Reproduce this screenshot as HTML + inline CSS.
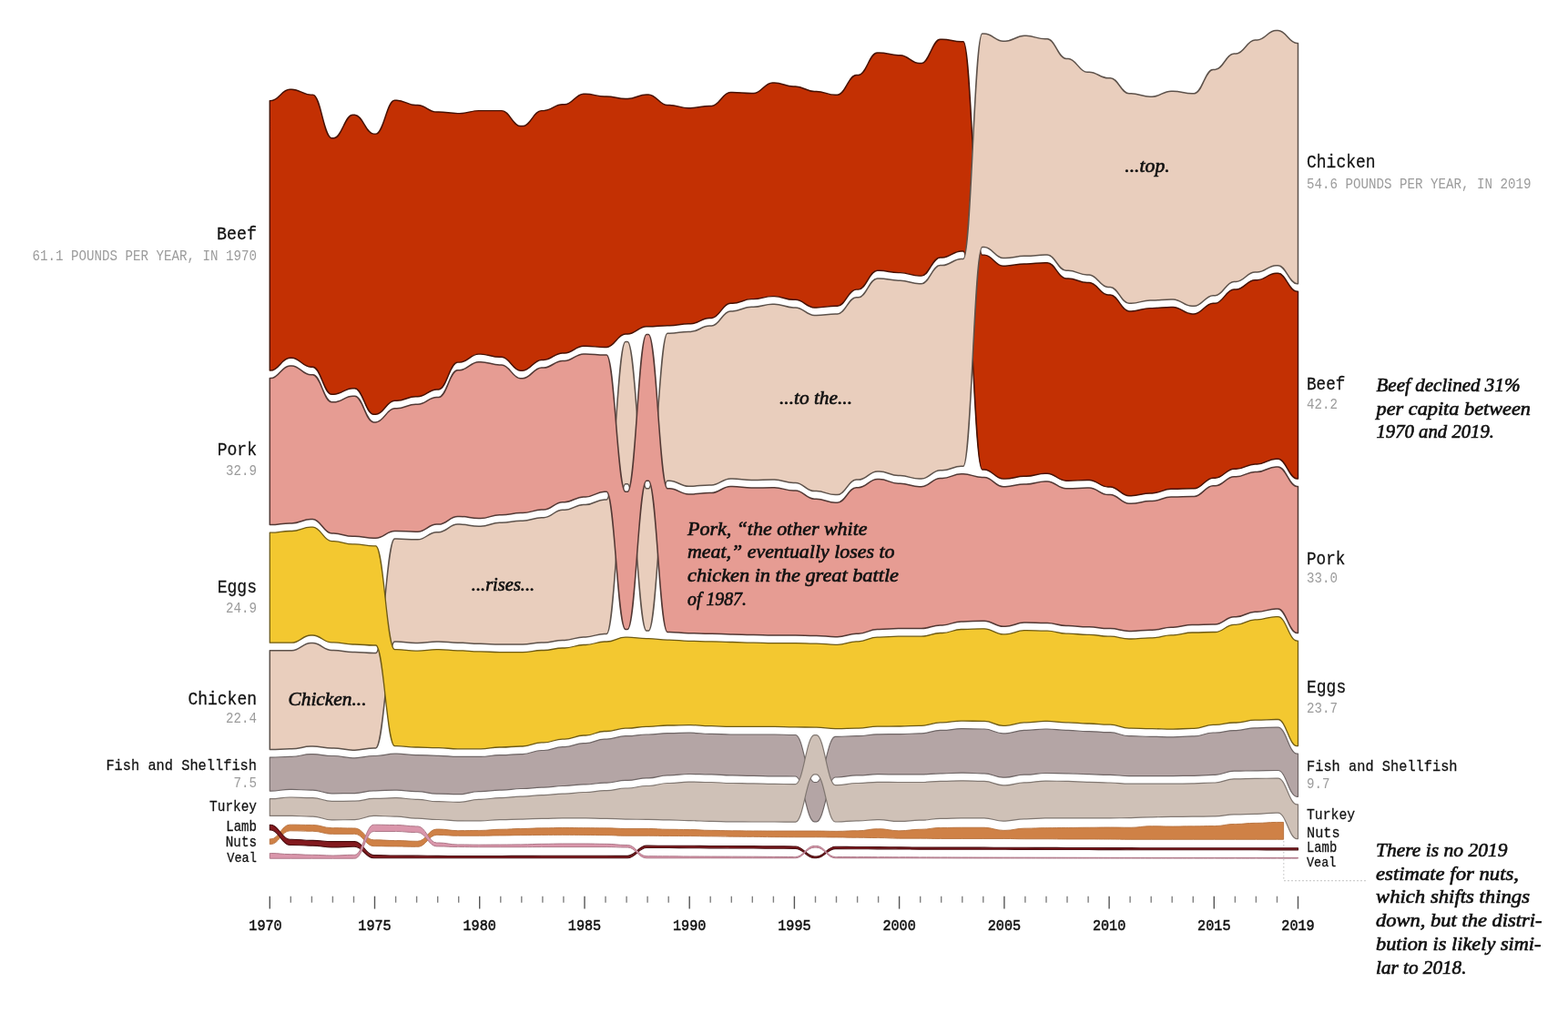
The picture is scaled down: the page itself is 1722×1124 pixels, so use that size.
<!DOCTYPE html>
<html lang="en">
<head>
<meta charset="utf-8">
<title>How American meat consumption changed</title>
<style>
html,body{margin:0;padding:0;background:#fff;}
body{width:1722px;height:1124px;overflow:hidden;}
svg{display:block;}
.band{stroke-linejoin:round;}/*1.25*/
text{font-family:"Liberation Mono","DejaVu Sans Mono",monospace;}
.lb{fill:#111;stroke:#111;stroke-width:.25px;}
.vl{fill:#9c9c9c;}
.ax{fill:#111;stroke:#111;stroke-width:.55px;}
.an{font-family:"Liberation Serif","DejaVu Serif",serif;font-style:italic;font-size:21.2px;fill:#111;stroke:#111;stroke-width:.65px;}
</style>
</head>
<body>
<svg width="1722" height="1124" viewBox="0 0 1722 1124">
<rect width="1722" height="1124" fill="#fff"/>
<path d="M1409.8,924V967.6H1500" fill="none" stroke="#c4c4c4" stroke-width="1.1" stroke-dasharray="1.6,2.4"/>
<g id="bands">
<path class="band beef" d="M296.3,110.62H297.45C306.16,110.62,309.48,98.32,318.19,98.32H319.34H320.5C329.21,98.32,332.53,104.12,341.24,104.12H342.39H343.54C352.25,104.12,355.57,151.82,364.28,151.82H365.43H366.59C375.3,151.82,378.62,126.22,387.33,126.22H388.48H389.63C398.34,126.22,401.66,147.12,410.37,147.12H411.52H412.68C421.39,147.12,424.71,110.22,433.42,110.22H434.57H435.72C444.43,110.22,447.75,115.52,456.46,115.52H457.61H458.77C467.48,115.52,470.8,123.02,479.51,123.02H480.66H481.81C490.52,123.02,493.84,124.62,502.55,124.62H503.7H504.86C513.57,124.62,516.89,121.62,525.6,121.62H526.75H549.79H550.95C559.66,121.62,562.98,138.53,571.69,138.53H572.84H573.99C582.7,138.53,586.02,121.62,594.73,121.62H595.88H597.04C605.75,121.62,609.07,114.82,617.78,114.82H618.93H620.08C628.79,114.82,632.11,103.22,640.82,103.22H641.97H643.13C651.84,103.22,655.16,106.02,663.87,106.02H665.02H666.17C674.88,106.02,678.2,108.52,686.91,108.52H688.06H689.22C697.93,108.52,701.24,103.92,709.96,103.92H711.11H712.26C720.97,103.92,724.29,115.52,733,115.52H734.15H735.31C744.02,115.52,747.33,118.72,756.05,118.72H757.2H758.35C767.06,118.72,770.38,116.42,779.09,116.42H780.24H781.4C790.11,116.42,793.42,101.52,802.14,101.52H803.29H804.44C813.15,101.52,816.47,102.52,825.18,102.52H826.33H827.48C836.2,102.52,839.51,90.92,848.23,90.92H849.38H850.53C859.24,90.92,862.56,95.02,871.27,95.02H872.42H873.57C882.29,95.02,885.6,100.42,894.32,100.42H895.47H896.62C905.33,100.42,908.65,104.32,917.36,104.32H918.51H919.66C928.38,104.32,931.69,82.52,940.4,82.52H941.56H942.71C951.42,82.52,954.74,57.93,963.45,57.93H964.6H965.75C974.47,57.93,977.78,60.73,986.49,60.73H987.65H988.8C997.51,60.73,1000.83,69.52,1009.54,69.52H1010.69H1011.84C1020.56,69.52,1023.87,43.23,1032.58,43.23H1033.74H1034.89C1043.6,43.23,1046.92,45.83,1055.63,45.83H1056.78H1057.93C1066.64,45.83,1069.96,280.1,1078.67,280.1H1079.83H1080.98C1089.69,280.1,1093.01,292.2,1101.72,292.2H1102.87H1104.02C1112.73,292.2,1116.05,289.9,1124.76,289.9H1125.92H1127.07C1135.78,289.9,1139.1,288.7,1147.81,288.7H1148.96H1150.11C1158.82,288.7,1162.14,305.9,1170.85,305.9H1172.01H1173.16C1181.87,305.9,1185.19,310.5,1193.9,310.5H1195.05H1196.2C1204.91,310.5,1208.23,324,1216.94,324H1218.1H1219.25C1227.96,324,1231.28,341.9,1239.99,341.9H1241.14H1242.29C1251,341.9,1254.32,338.6,1263.03,338.6H1264.19H1265.34C1274.05,338.6,1277.37,337.5,1286.08,337.5H1287.23H1288.38C1297.09,337.5,1300.41,344.9,1309.12,344.9H1310.28H1311.43C1320.14,344.9,1323.46,333.3,1332.17,333.3H1333.32H1334.47C1343.18,333.3,1346.5,318,1355.21,318H1356.37H1357.52C1366.23,318,1369.55,307.7,1378.26,307.7H1379.41H1380.56C1389.27,307.7,1392.59,300.3,1401.3,300.3H1402.46H1403.61C1412.32,300.3,1415.64,320.3,1424.35,320.3H1425.5L1425.5,525.9H1424.35C1415.64,525.9,1412.32,504.3,1403.61,504.3H1402.46H1401.3C1392.59,504.3,1389.27,509.9,1380.56,509.9H1379.41H1378.26C1369.55,509.9,1366.23,515.2,1357.52,515.2H1356.37H1355.21C1346.5,515.2,1343.18,525.2,1334.47,525.2H1333.32H1332.17C1323.46,525.2,1320.14,536.8,1311.43,536.8H1310.28H1309.12C1300.41,536.8,1297.09,537.3,1288.38,537.3H1287.23H1286.08C1277.37,537.3,1274.05,541.9,1265.34,541.9H1264.19H1263.03C1254.32,541.9,1251,544.7,1242.29,544.7H1241.14H1239.99C1231.28,544.7,1227.96,535,1219.25,535H1218.1H1216.94C1208.23,535,1204.91,527.5,1196.2,527.5H1195.05H1193.9C1185.19,527.5,1181.87,528.2,1173.16,528.2H1172.01H1170.85C1162.14,528.2,1158.82,520.3,1150.11,520.3H1148.96H1147.81C1139.1,520.3,1135.78,523.3,1127.07,523.3H1125.92H1124.76C1116.05,523.3,1112.73,526.1,1104.02,526.1H1102.87H1101.72C1093.01,526.1,1089.69,515.9,1080.98,515.9H1079.83H1078.67C1069.96,515.9,1066.64,275.9,1057.93,275.9H1056.78H1055.63C1046.92,275.9,1043.6,282.9,1034.89,282.9H1033.74H1032.58C1023.87,282.9,1020.56,303.1,1011.84,303.1H1010.69H1009.54C1000.83,303.1,997.51,299.6,988.8,299.6H987.65H986.49C977.78,299.6,974.47,297.3,965.75,297.3H964.6H963.45C954.74,297.3,951.42,318.1,942.71,318.1H941.56H940.4C931.69,318.1,928.38,336.3,919.66,336.3H918.51H917.36C908.65,336.3,905.33,337.9,896.62,337.9H895.47H894.32C885.6,337.9,882.29,329.3,873.57,329.3H872.42H871.27C862.56,329.3,859.24,325.6,850.53,325.6H849.38H848.23C839.51,325.6,836.2,328.6,827.48,328.6H826.33H825.18C816.47,328.6,813.15,333.3,804.44,333.3H803.29H802.14C793.42,333.3,790.11,349.5,781.4,349.5H780.24H779.09C770.38,349.5,767.06,355.8,758.35,355.8H757.2H756.05C747.33,355.8,744.02,357.7,735.31,357.7H734.15H733C724.29,357.7,720.97,358.8,712.26,358.8H711.11H709.96C701.24,358.8,697.93,367,689.22,367H688.06H686.91C678.2,367,674.88,381.4,666.17,381.4H665.02H663.87C655.16,381.4,651.84,380.3,643.13,380.3H641.97H640.82C632.11,380.3,628.79,387.9,620.08,387.9H618.93H617.78C609.07,387.9,605.75,395.4,597.04,395.4H595.88H594.73C586.02,395.4,582.7,407.2,573.99,407.2H572.84H571.69C562.98,407.2,559.66,392.3,550.95,392.3H549.79H548.64C539.93,392.3,536.61,389.1,527.9,389.1H526.75H525.6C516.89,389.1,513.57,398.1,504.86,398.1H503.7H502.55C493.84,398.1,490.52,427.9,481.81,427.9H480.66H479.51C470.8,427.9,467.48,435.7,458.77,435.7H457.61H456.46C447.75,435.7,444.43,440.2,435.72,440.2H434.57H433.42C424.71,440.2,421.39,455.3,412.68,455.3H411.52H410.37C401.66,455.3,398.34,426.7,389.63,426.7H388.48H387.33C378.62,426.7,375.3,433.2,366.59,433.2H365.43H364.28C355.57,433.2,352.25,403.2,343.54,403.2H342.39H341.24C332.53,403.2,329.21,393.3,320.5,393.3H319.34H318.19C309.48,393.3,306.16,407,297.45,407H296.3Z" fill="#c33003" stroke="#461101" stroke-width="1.45"/>
<path class="band chicken" d="M296.3,714.8H319.34H320.5C329.21,714.8,332.53,706.6,341.24,706.6H342.39H343.54C352.25,706.6,355.57,714.5,364.28,714.5H365.43H366.59C375.3,714.5,378.62,716.6,387.33,716.6H388.48H389.63C398.34,716.6,401.66,717.6,410.37,717.6H411.52H412.68C421.39,717.6,424.71,592.1,433.42,592.1H434.57H435.72C444.43,592.1,447.75,592.8,456.46,592.8H457.61H458.77C467.48,592.8,470.8,584.7,479.51,584.7H480.66H481.81C490.52,584.7,493.84,576.1,502.55,576.1H503.7H504.86C513.57,576.1,516.89,578.2,525.6,578.2H526.75H527.9C536.61,578.2,539.93,574.3,548.64,574.3H549.79H550.95C559.66,574.3,562.98,572.2,571.69,572.2H572.84H573.99C582.7,572.2,586.02,568.7,594.73,568.7H595.88H597.04C605.75,568.7,609.07,560.3,617.78,560.3H618.93H620.08C628.79,560.3,632.11,554.5,640.82,554.5H641.97H643.13C651.84,554.5,655.16,548.9,663.87,548.9H665.02H666.17C674.88,548.9,678.2,375.6,686.91,375.6H688.06H689.22C697.93,375.6,701.24,536.8,709.96,536.8H711.11H712.26C720.97,536.8,724.29,366.3,733,366.3H734.15H735.31C744.02,366.3,747.33,364.4,756.05,364.4H757.2H758.35C767.06,364.4,770.38,358.1,779.09,358.1H780.24H781.4C790.11,358.1,793.42,341.9,802.14,341.9H803.29H804.44C813.15,341.9,816.47,337.2,825.18,337.2H826.33H827.48C836.2,337.2,839.51,334.2,848.23,334.2H849.38H850.53C859.24,334.2,862.56,337.9,871.27,337.9H872.42H873.57C882.29,337.9,885.6,346.5,894.32,346.5H895.47H896.62C905.33,346.5,908.65,344.9,917.36,344.9H918.51H919.66C928.38,344.9,931.69,326.7,940.4,326.7H941.56H942.71C951.42,326.7,954.74,305.9,963.45,305.9H964.6H965.75C974.47,305.9,977.78,308.2,986.49,308.2H987.65H988.8C997.51,308.2,1000.83,311.7,1009.54,311.7H1010.69H1011.84C1020.56,311.7,1023.87,291.5,1032.58,291.5H1033.74H1034.89C1043.6,291.5,1046.92,284.5,1055.63,284.5H1056.78H1057.93C1066.64,284.5,1069.96,37.05,1078.67,37.05H1079.83H1080.98C1089.69,37.05,1093.01,45.15,1101.72,45.15H1102.87H1104.02C1112.73,45.15,1116.05,39.35,1124.76,39.35H1125.92H1127.07C1135.78,39.35,1139.1,42.85,1147.81,42.85H1148.96H1150.11C1158.82,42.85,1162.14,64.45,1170.85,64.45H1172.01H1173.16C1181.87,64.45,1185.19,79.25,1193.9,79.25H1195.05H1196.2C1204.91,79.25,1208.23,85.75,1216.94,85.75H1218.1H1219.25C1227.96,85.75,1231.28,102.75,1239.99,102.75H1241.14H1242.29C1251,102.75,1254.32,106.25,1263.03,106.25H1264.19H1265.34C1274.05,106.25,1277.37,100.15,1286.08,100.15H1287.23H1288.38C1297.09,100.15,1300.41,102.75,1309.12,102.75H1310.28H1311.43C1320.14,102.75,1323.46,76.45,1332.17,76.45H1333.32H1334.47C1343.18,76.45,1346.5,59.05,1355.21,59.05H1356.37H1357.52C1366.23,59.05,1369.55,43.95,1378.26,43.95H1379.41H1380.56C1389.27,43.95,1392.59,33.55,1401.3,33.55H1402.46H1403.61C1412.32,33.55,1415.64,47.45,1424.35,47.45H1425.5L1425.5,311.7H1424.35C1415.64,311.7,1412.32,291.7,1403.61,291.7H1402.46H1401.3C1392.59,291.7,1389.27,299.1,1380.56,299.1H1379.41H1378.26C1369.55,299.1,1366.23,309.4,1357.52,309.4H1356.37H1355.21C1346.5,309.4,1343.18,324.7,1334.47,324.7H1333.32H1332.17C1323.46,324.7,1320.14,336.3,1311.43,336.3H1310.28H1309.12C1300.41,336.3,1297.09,328.9,1288.38,328.9H1287.23H1286.08C1277.37,328.9,1274.05,330,1265.34,330H1264.19H1263.03C1254.32,330,1251,333.3,1242.29,333.3H1241.14H1239.99C1231.28,333.3,1227.96,315.4,1219.25,315.4H1218.1H1216.94C1208.23,315.4,1204.91,301.9,1196.2,301.9H1195.05H1193.9C1185.19,301.9,1181.87,297.3,1173.16,297.3H1172.01H1170.85C1162.14,297.3,1158.82,280.1,1150.11,280.1H1148.96H1147.81C1139.1,280.1,1135.78,281.3,1127.07,281.3H1125.92H1124.76C1116.05,281.3,1112.73,283.6,1104.02,283.6H1102.87H1101.72C1093.01,283.6,1089.69,271.5,1080.98,271.5H1079.83H1078.67C1069.96,271.5,1066.64,512.2,1057.93,512.2H1056.78H1055.63C1046.92,512.2,1043.6,516.8,1034.89,516.8H1033.74H1032.58C1023.87,516.8,1020.56,526.1,1011.84,526.1H1010.69H1009.54C1000.83,526.1,997.51,522.6,988.8,522.6H987.65H986.49C977.78,522.6,974.47,518,965.75,518H964.6H963.45C954.74,518,951.42,527.1,942.71,527.1H941.56H940.4C931.69,527.1,928.38,543.6,919.66,543.6H918.51H917.36C908.65,543.6,905.33,539.6,896.62,539.6H895.47H894.32C885.6,539.6,882.29,530.5,873.57,530.5H872.42H871.27C862.56,530.5,859.24,527.1,850.53,527.1H849.38H848.23C839.51,527.1,836.2,527.5,827.48,527.5H826.33H825.18C816.47,527.5,813.15,525.9,804.44,525.9H803.29H802.14C793.42,525.9,790.11,532.9,781.4,532.9H780.24H779.09C770.38,532.9,767.06,534.3,758.35,534.3H757.2H756.05C747.33,534.3,744.02,528.2,735.31,528.2H734.15H733C724.29,528.2,720.97,693.1,712.26,693.1H711.11H709.96C701.24,693.1,697.93,531.7,689.22,531.7H688.06H686.91C678.2,531.7,674.88,696.4,666.17,696.4H665.02H663.87C655.16,696.4,651.84,699.9,643.13,699.9H641.97H640.82C632.11,699.9,628.79,703.4,620.08,703.4H618.93H617.78C609.07,703.4,605.75,705.9,597.04,705.9H595.88H594.73C586.02,705.9,582.7,708,573.99,708H572.84H549.79H548.64C539.93,708,536.61,707.3,527.9,707.3H526.75H525.6C516.89,707.3,513.57,706.2,504.86,706.2H503.7H502.55C493.84,706.2,490.52,705,481.81,705H480.66H479.51C470.8,705,467.48,706.6,458.77,706.6H457.61H456.46C447.75,706.6,444.43,705,435.72,705H434.57H433.42C424.71,705,421.39,821.9,412.68,821.9H411.52H410.37C401.66,821.9,398.34,824.2,389.63,824.2H388.48H387.33C378.62,824.2,375.3,821.9,366.59,821.9H365.43H364.28C355.57,821.9,352.25,820,343.54,820H342.39H341.24C332.53,820,329.21,822.8,320.5,822.8H319.34H318.19C309.48,822.8,306.16,823.5,297.45,823.5H296.3Z" fill="#e9cebd" stroke="#5d524b" stroke-width="1.5"/>
<path class="band pork" d="M296.3,415.6H297.45C306.16,415.6,309.48,401.9,318.19,401.9H319.34H320.5C329.21,401.9,332.53,411.8,341.24,411.8H342.39H343.54C352.25,411.8,355.57,441.8,364.28,441.8H365.43H366.59C375.3,441.8,378.62,435.3,387.33,435.3H388.48H389.63C398.34,435.3,401.66,463.9,410.37,463.9H411.52H412.68C421.39,463.9,424.71,448.8,433.42,448.8H434.57H435.72C444.43,448.8,447.75,444.3,456.46,444.3H457.61H458.77C467.48,444.3,470.8,436.5,479.51,436.5H480.66H481.81C490.52,436.5,493.84,406.7,502.55,406.7H503.7H504.86C513.57,406.7,516.89,397.7,525.6,397.7H526.75H527.9C536.61,397.7,539.93,400.9,548.64,400.9H549.79H550.95C559.66,400.9,562.98,415.8,571.69,415.8H572.84H573.99C582.7,415.8,586.02,404,594.73,404H595.88H597.04C605.75,404,609.07,396.5,617.78,396.5H618.93H620.08C628.79,396.5,632.11,388.9,640.82,388.9H641.97H643.13C651.84,388.9,655.16,390,663.87,390H665.02H666.17C674.88,390,678.2,540.3,686.91,540.3H688.06H689.22C697.93,540.3,701.24,367.4,709.96,367.4H711.11H712.26C720.97,367.4,724.29,536.8,733,536.8H734.15H735.31C744.02,536.8,747.33,542.9,756.05,542.9H757.2H758.35C767.06,542.9,770.38,541.5,779.09,541.5H780.24H781.4C790.11,541.5,793.42,534.5,802.14,534.5H803.29H804.44C813.15,534.5,816.47,536.1,825.18,536.1H826.33H827.48C836.2,536.1,839.51,535.7,848.23,535.7H849.38H850.53C859.24,535.7,862.56,539.1,871.27,539.1H872.42H873.57C882.29,539.1,885.6,548.2,894.32,548.2H895.47H896.62C905.33,548.2,908.65,552.2,917.36,552.2H918.51H919.66C928.38,552.2,931.69,535.7,940.4,535.7H941.56H942.71C951.42,535.7,954.74,526.6,963.45,526.6H964.6H965.75C974.47,526.6,977.78,531.2,986.49,531.2H987.65H988.8C997.51,531.2,1000.83,534.7,1009.54,534.7H1010.69H1011.84C1020.56,534.7,1023.87,525.4,1032.58,525.4H1033.74H1034.89C1043.6,525.4,1046.92,520.8,1055.63,520.8H1056.78H1057.93C1066.64,520.8,1069.96,524.5,1078.67,524.5H1079.83H1080.98C1089.69,524.5,1093.01,534.7,1101.72,534.7H1102.87H1104.02C1112.73,534.7,1116.05,531.9,1124.76,531.9H1125.92H1127.07C1135.78,531.9,1139.1,528.9,1147.81,528.9H1148.96H1150.11C1158.82,528.9,1162.14,536.8,1170.85,536.8H1172.01H1173.16C1181.87,536.8,1185.19,536.1,1193.9,536.1H1195.05H1196.2C1204.91,536.1,1208.23,543.6,1216.94,543.6H1218.1H1219.25C1227.96,543.6,1231.28,553.3,1239.99,553.3H1241.14H1242.29C1251,553.3,1254.32,550.5,1263.03,550.5H1264.19H1265.34C1274.05,550.5,1277.37,545.9,1286.08,545.9H1287.23H1288.38C1297.09,545.9,1300.41,545.4,1309.12,545.4H1310.28H1311.43C1320.14,545.4,1323.46,533.8,1332.17,533.8H1333.32H1334.47C1343.18,533.8,1346.5,523.8,1355.21,523.8H1356.37H1357.52C1366.23,523.8,1369.55,518.5,1378.26,518.5H1379.41H1380.56C1389.27,518.5,1392.59,512.9,1401.3,512.9H1402.46H1403.61C1412.32,512.9,1415.64,534.5,1424.35,534.5H1425.5L1425.5,695.5H1424.35C1415.64,695.5,1412.32,669,1403.61,669H1402.46H1401.3C1392.59,669,1389.27,672.2,1380.56,672.2H1379.41H1378.26C1369.55,672.2,1366.23,677.8,1357.52,677.8H1356.37H1355.21C1346.5,677.8,1343.18,685.9,1334.47,685.9H1333.32H1332.17C1323.46,685.9,1320.14,686.4,1311.43,686.4H1310.28H1309.12C1300.41,686.4,1297.09,689.2,1288.38,689.2H1287.23H1286.08C1277.37,689.2,1274.05,692.2,1265.34,692.2H1264.19H1263.03C1254.32,692.2,1251,693.4,1242.29,693.4H1241.14H1239.99C1231.28,693.4,1227.96,690.6,1219.25,690.6H1218.1H1216.94C1208.23,690.6,1204.91,688.7,1196.2,688.7H1195.05H1193.9C1185.19,688.7,1181.87,687.6,1173.16,687.6H1172.01H1170.85C1162.14,687.6,1158.82,684.6,1150.11,684.6H1148.96H1147.81C1139.1,684.6,1135.78,684.1,1127.07,684.1H1125.92H1124.76C1116.05,684.1,1112.73,688.3,1104.02,688.3H1102.87H1101.72C1093.01,688.3,1089.69,682.2,1080.98,682.2H1079.83H1078.67C1069.96,682.2,1066.64,682.9,1057.93,682.9H1056.78H1055.63C1046.92,682.9,1043.6,686.9,1034.89,686.9H1033.74H1032.58C1023.87,686.9,1020.56,690.6,1011.84,690.6H1010.69H987.65H986.49C977.78,690.6,974.47,691.5,965.75,691.5H964.6H963.45C954.74,691.5,951.42,696.2,942.71,696.2H941.56H940.4C931.69,696.2,928.38,699.7,919.66,699.7H918.51H917.36C908.65,699.7,905.33,698.5,896.62,698.5H895.47H894.32C885.6,698.5,882.29,698,873.57,698H872.42H849.38H848.23C839.51,698,836.2,697.6,827.48,697.6H826.33H825.18C816.47,697.6,813.15,696.9,804.44,696.9H803.29H802.14C793.42,696.9,790.11,696.2,781.4,696.2H780.24H779.09C770.38,696.2,767.06,695.7,758.35,695.7H757.2H756.05C747.33,695.7,744.02,694.5,735.31,694.5H734.15H733C724.29,694.5,720.97,528.2,712.26,528.2H711.11H709.96C701.24,528.2,697.93,691.5,689.22,691.5H688.06H686.91C678.2,691.5,674.88,540.3,666.17,540.3H665.02H663.87C655.16,540.3,651.84,545.9,643.13,545.9H641.97H640.82C632.11,545.9,628.79,551.7,620.08,551.7H618.93H617.78C609.07,551.7,605.75,560.1,597.04,560.1H595.88H594.73C586.02,560.1,582.7,563.6,573.99,563.6H572.84H571.69C562.98,563.6,559.66,565.7,550.95,565.7H549.79H548.64C539.93,565.7,536.61,569.6,527.9,569.6H526.75H525.6C516.89,569.6,513.57,567.5,504.86,567.5H503.7H502.55C493.84,567.5,490.52,576.1,481.81,576.1H480.66H479.51C470.8,576.1,467.48,584.2,458.77,584.2H457.61H456.46C447.75,584.2,444.43,583.5,435.72,583.5H434.57H433.42C424.71,583.5,421.39,591.2,412.68,591.2H411.52H410.37C401.66,591.2,398.34,589.3,389.63,589.3H388.48H387.33C378.62,589.3,375.3,586.1,366.59,586.1H365.43H364.28C355.57,586.1,352.25,570.5,343.54,570.5H342.39H341.24C332.53,570.5,329.21,574.9,320.5,574.9H319.34H318.19C309.48,574.9,306.16,576.6,297.45,576.6H296.3Z" fill="#e69c93" stroke="#523834" stroke-width="1.5"/>
<path class="band eggs" d="M296.3,585.2H297.45C306.16,585.2,309.48,583.5,318.19,583.5H319.34H320.5C329.21,583.5,332.53,579.1,341.24,579.1H342.39H343.54C352.25,579.1,355.57,594.7,364.28,594.7H365.43H366.59C375.3,594.7,378.62,597.9,387.33,597.9H388.48H389.63C398.34,597.9,401.66,599.8,410.37,599.8H411.52H412.68C421.39,599.8,424.71,713.6,433.42,713.6H434.57H435.72C444.43,713.6,447.75,715.2,456.46,715.2H457.61H458.77C467.48,715.2,470.8,713.6,479.51,713.6H480.66H481.81C490.52,713.6,493.84,714.8,502.55,714.8H503.7H504.86C513.57,714.8,516.89,715.9,525.6,715.9H526.75H527.9C536.61,715.9,539.93,716.6,548.64,716.6H549.79H572.84H573.99C582.7,716.6,586.02,714.5,594.73,714.5H595.88H597.04C605.75,714.5,609.07,712,617.78,712H618.93H620.08C628.79,712,632.11,708.5,640.82,708.5H641.97H643.13C651.84,708.5,655.16,705,663.87,705H665.02H666.17C674.88,705,678.2,700.1,686.91,700.1H688.06H689.22C697.93,700.1,701.24,701.7,709.96,701.7H711.11H712.26C720.97,701.7,724.29,703.1,733,703.1H734.15H735.31C744.02,703.1,747.33,704.3,756.05,704.3H757.2H758.35C767.06,704.3,770.38,704.8,779.09,704.8H780.24H781.4C790.11,704.8,793.42,705.5,802.14,705.5H803.29H804.44C813.15,705.5,816.47,706.2,825.18,706.2H826.33H827.48C836.2,706.2,839.51,706.6,848.23,706.6H849.38H872.42H873.57C882.29,706.6,885.6,707.1,894.32,707.1H895.47H896.62C905.33,707.1,908.65,708.3,917.36,708.3H918.51H919.66C928.38,708.3,931.69,704.8,940.4,704.8H941.56H942.71C951.42,704.8,954.74,700.1,963.45,700.1H964.6H965.75C974.47,700.1,977.78,699.2,986.49,699.2H987.65H1010.69H1011.84C1020.56,699.2,1023.87,695.5,1032.58,695.5H1033.74H1034.89C1043.6,695.5,1046.92,691.5,1055.63,691.5H1056.78H1057.93C1066.64,691.5,1069.96,690.8,1078.67,690.8H1079.83H1080.98C1089.69,690.8,1093.01,696.9,1101.72,696.9H1102.87H1104.02C1112.73,696.9,1116.05,692.7,1124.76,692.7H1125.92H1127.07C1135.78,692.7,1139.1,693.2,1147.81,693.2H1148.96H1150.11C1158.82,693.2,1162.14,696.2,1170.85,696.2H1172.01H1173.16C1181.87,696.2,1185.19,697.3,1193.9,697.3H1195.05H1196.2C1204.91,697.3,1208.23,699.2,1216.94,699.2H1218.1H1219.25C1227.96,699.2,1231.28,702,1239.99,702H1241.14H1242.29C1251,702,1254.32,700.8,1263.03,700.8H1264.19H1265.34C1274.05,700.8,1277.37,697.8,1286.08,697.8H1287.23H1288.38C1297.09,697.8,1300.41,695,1309.12,695H1310.28H1311.43C1320.14,695,1323.46,694.5,1332.17,694.5H1333.32H1334.47C1343.18,694.5,1346.5,686.4,1355.21,686.4H1356.37H1357.52C1366.23,686.4,1369.55,680.8,1378.26,680.8H1379.41H1380.56C1389.27,680.8,1392.59,677.6,1401.3,677.6H1402.46H1403.61C1412.32,677.6,1415.64,704.1,1424.35,704.1H1425.5L1425.5,819.6H1424.35C1415.64,819.6,1412.32,790.5,1403.61,790.5H1402.46H1401.3C1392.59,790.5,1389.27,791.2,1380.56,791.2H1379.41H1378.26C1369.55,791.2,1366.23,794,1357.52,794H1356.37H1355.21C1346.5,794,1343.18,796.4,1334.47,796.4H1333.32H1332.17C1323.46,796.4,1320.14,800.3,1311.43,800.3H1310.28H1309.12C1300.41,800.3,1297.09,801.2,1288.38,801.2H1287.23H1286.08C1277.37,801.2,1274.05,800.7,1265.34,800.7H1264.19H1263.03C1254.32,800.7,1251,800.1,1242.29,800.1H1241.14H1239.99C1231.28,800.1,1227.96,796.1,1219.25,796.1H1218.1H1216.94C1208.23,796.1,1204.91,795,1196.2,795H1195.05H1193.9C1185.19,795,1181.87,793.8,1173.16,793.8H1172.01H1170.85C1162.14,793.8,1158.82,792.4,1150.11,792.4H1148.96H1147.81C1139.1,792.4,1135.78,793.8,1127.07,793.8H1125.92H1124.76C1116.05,793.8,1112.73,797.3,1104.02,797.3H1102.87H1101.72C1093.01,797.3,1089.69,792.4,1080.98,792.4H1079.83H1078.67C1069.96,792.4,1066.64,792.1,1057.93,792.1H1056.78H1055.63C1046.92,792.1,1043.6,793.8,1034.89,793.8H1033.74H1032.58C1023.87,793.8,1020.56,797.3,1011.84,797.3H1010.69H1009.54C1000.83,797.3,997.51,798,988.8,798H987.65H986.49C977.78,798,974.47,798.2,965.75,798.2H964.6H963.45C954.74,798.2,951.42,800.1,942.71,800.1H941.56H940.4C931.69,800.1,928.38,800.7,919.66,800.7H918.51H917.36C908.65,800.7,905.33,799.1,896.62,799.1H895.47H894.32C885.6,799.1,882.29,798.9,873.57,798.9H872.42H871.27C862.56,798.9,859.24,798.4,850.53,798.4H849.38H826.33H803.29H802.14C793.42,798.4,790.11,797.7,781.4,797.7H780.24H779.09C770.38,797.7,767.06,796.6,758.35,796.6H757.2H756.05C747.33,796.6,744.02,797,735.31,797H734.15H733C724.29,797,720.97,798.4,712.26,798.4H711.11H709.96C701.24,798.4,697.93,800.1,689.22,800.1H688.06H686.91C678.2,800.1,674.88,803.5,666.17,803.5H665.02H663.87C655.16,803.5,651.84,808,643.13,808H641.97H640.82C632.11,808,628.79,812.1,620.08,812.1H618.93H617.78C609.07,812.1,605.75,815.9,597.04,815.9H595.88H594.73C586.02,815.9,582.7,820,573.99,820H572.84H571.69C562.98,820,559.66,821,550.95,821H549.79H548.64C539.93,821,536.61,822.8,527.9,822.8H526.75H503.7H502.55C493.84,822.8,490.52,821.7,481.81,821.7H480.66H479.51C470.8,821.7,467.48,821,458.77,821H457.61H456.46C447.75,821,444.43,819.6,435.72,819.6H434.57H433.42C424.71,819.6,421.39,709,412.68,709H411.52H410.37C401.66,709,398.34,708,389.63,708H388.48H387.33C378.62,708,375.3,705.9,366.59,705.9H365.43H364.28C355.57,705.9,352.25,698,343.54,698H342.39H341.24C332.53,698,329.21,706.2,320.5,706.2H319.34H296.3Z" fill="#f3c830" stroke="#6d5a15" stroke-width="1.3"/>
<path class="band fish" d="M296.3,832.1H297.45C306.16,832.1,309.48,831.4,318.19,831.4H319.34H320.5C329.21,831.4,332.53,828.6,341.24,828.6H342.39H343.54C352.25,828.6,355.57,830.5,364.28,830.5H365.43H366.59C375.3,830.5,378.62,832.8,387.33,832.8H388.48H389.63C398.34,832.8,401.66,830.5,410.37,830.5H411.52H412.68C421.39,830.5,424.71,828.2,433.42,828.2H434.57H435.72C444.43,828.2,447.75,829.6,456.46,829.6H457.61H458.77C467.48,829.6,470.8,830.3,479.51,830.3H480.66H481.81C490.52,830.3,493.84,831.4,502.55,831.4H503.7H526.75H527.9C536.61,831.4,539.93,829.6,548.64,829.6H549.79H550.95C559.66,829.6,562.98,828.6,571.69,828.6H572.84H573.99C582.7,828.6,586.02,824.5,594.73,824.5H595.88H597.04C605.75,824.5,609.07,820.7,617.78,820.7H618.93H620.08C628.79,820.7,632.11,816.6,640.82,816.6H641.97H643.13C651.84,816.6,655.16,812.1,663.87,812.1H665.02H666.17C674.88,812.1,678.2,808.7,686.91,808.7H688.06H689.22C697.93,808.7,701.24,807,709.96,807H711.11H712.26C720.97,807,724.29,805.6,733,805.6H734.15H735.31C744.02,805.6,747.33,805.2,756.05,805.2H757.2H758.35C767.06,805.2,770.38,806.3,779.09,806.3H780.24H781.4C790.11,806.3,793.42,807,802.14,807H803.29H826.33H849.38H850.53C859.24,807,862.56,807.5,871.27,807.5H872.42H873.57C882.29,807.5,885.6,859.5,894.32,859.5H895.47H896.62C905.33,859.5,908.65,809.3,917.36,809.3H918.51H919.66C928.38,809.3,931.69,808.7,940.4,808.7H941.56H942.71C951.42,808.7,954.74,806.8,963.45,806.8H964.6H965.75C974.47,806.8,977.78,806.6,986.49,806.6H987.65H988.8C997.51,806.6,1000.83,805.9,1009.54,805.9H1010.69H1011.84C1020.56,805.9,1023.87,802.4,1032.58,802.4H1033.74H1034.89C1043.6,802.4,1046.92,800.7,1055.63,800.7H1056.78H1057.93C1066.64,800.7,1069.96,801,1078.67,801H1079.83H1080.98C1089.69,801,1093.01,805.9,1101.72,805.9H1102.87H1104.02C1112.73,805.9,1116.05,802.4,1124.76,802.4H1125.92H1127.07C1135.78,802.4,1139.1,801,1147.81,801H1148.96H1150.11C1158.82,801,1162.14,802.4,1170.85,802.4H1172.01H1173.16C1181.87,802.4,1185.19,803.6,1193.9,803.6H1195.05H1196.2C1204.91,803.6,1208.23,804.7,1216.94,804.7H1218.1H1219.25C1227.96,804.7,1231.28,808.7,1239.99,808.7H1241.14H1242.29C1251,808.7,1254.32,809.3,1263.03,809.3H1264.19H1265.34C1274.05,809.3,1277.37,809.8,1286.08,809.8H1287.23H1288.38C1297.09,809.8,1300.41,808.9,1309.12,808.9H1310.28H1311.43C1320.14,808.9,1323.46,805,1332.17,805H1333.32H1334.47C1343.18,805,1346.5,802.6,1355.21,802.6H1356.37H1357.52C1366.23,802.6,1369.55,799.8,1378.26,799.8H1379.41H1380.56C1389.27,799.8,1392.59,799.1,1401.3,799.1H1402.46H1403.61C1412.32,799.1,1415.64,828.2,1424.35,828.2H1425.5L1425.5,875.3H1424.35C1415.64,875.3,1412.32,846.5,1403.61,846.5H1402.46H1401.3C1392.59,846.5,1389.27,846.8,1380.56,846.8H1379.41H1378.26C1369.55,846.8,1366.23,847.2,1357.52,847.2H1356.37H1355.21C1346.5,847.2,1343.18,851.4,1334.47,851.4H1333.32H1332.17C1323.46,851.4,1320.14,852.3,1311.43,852.3H1310.28H1309.12C1300.41,852.3,1297.09,852.6,1288.38,852.6H1287.23H1264.19H1241.14H1239.99C1231.28,852.6,1227.96,851.4,1219.25,851.4H1218.1H1216.94C1208.23,851.4,1204.91,850.7,1196.2,850.7H1195.05H1193.9C1185.19,850.7,1181.87,849.8,1173.16,849.8H1172.01H1170.85C1162.14,849.8,1158.82,849.5,1150.11,849.5H1148.96H1147.81C1139.1,849.5,1135.78,851.2,1127.07,851.2H1125.92H1124.76C1116.05,851.2,1112.73,854.2,1104.02,854.2H1102.87H1101.72C1093.01,854.2,1089.69,849.8,1080.98,849.8H1079.83H1078.67C1069.96,849.8,1066.64,849.2,1057.93,849.2H1056.78H1055.63C1046.92,849.2,1043.6,849.8,1034.89,849.8H1033.74H1032.58C1023.87,849.8,1020.56,850.9,1011.84,850.9H1010.69H987.65H986.49C977.78,850.9,974.47,850.7,965.75,850.7H964.6H963.45C954.74,850.7,951.42,851.9,942.71,851.9H941.56H940.4C931.69,851.9,928.38,854,919.66,854H918.51H917.36C908.65,854,905.33,902.8,896.62,902.8H895.47H894.32C885.6,902.8,882.29,853,873.57,853H872.42H871.27C862.56,853,859.24,852.8,850.53,852.8H849.38H848.23C839.51,852.8,836.2,852.3,827.48,852.3H826.33H825.18C816.47,852.3,813.15,851.9,804.44,851.9H803.29H802.14C793.42,851.9,790.11,850.9,781.4,850.9H780.24H779.09C770.38,850.9,767.06,850.5,758.35,850.5H757.2H756.05C747.33,850.5,744.02,851.9,735.31,851.9H734.15H733C724.29,851.9,720.97,854.9,712.26,854.9H711.11H709.96C701.24,854.9,697.93,857.4,689.22,857.4H688.06H686.91C678.2,857.4,674.88,860.1,666.17,860.1H665.02H663.87C655.16,860.1,651.84,861.9,643.13,861.9H641.97H640.82C632.11,861.9,628.79,863.5,620.08,863.5H618.93H617.78C609.07,863.5,605.75,865.1,597.04,865.1H595.88H594.73C586.02,865.1,582.7,866.5,573.99,866.5H572.84H571.69C562.98,866.5,559.66,868.1,550.95,868.1H549.79H548.64C539.93,868.1,536.61,869.7,527.9,869.7H526.75H525.6C516.89,869.7,513.57,872.7,504.86,872.7H503.7H502.55C493.84,872.7,490.52,872.1,481.81,872.1H480.66H479.51C470.8,872.1,467.48,869.7,458.77,869.7H457.61H456.46C447.75,869.7,444.43,868.1,435.72,868.1H434.57H433.42C424.71,868.1,421.39,868.8,412.68,868.8H411.52H410.37C401.66,868.8,398.34,871.6,389.63,871.6H388.48H387.33C378.62,871.6,375.3,871.8,366.59,871.8H365.43H364.28C355.57,871.8,352.25,868.1,343.54,868.1H342.39H341.24C332.53,868.1,329.21,867.4,320.5,867.4H319.34H318.19C309.48,867.4,306.16,869.1,297.45,869.1H296.3Z" fill="#b4a5a5" stroke="#6f6666" stroke-width="1.2"/>
<path class="band turkey" d="M296.3,877.7H297.45C306.16,877.7,309.48,876,318.19,876H319.34H320.5C329.21,876,332.53,876.7,341.24,876.7H342.39H343.54C352.25,876.7,355.57,880.4,364.28,880.4H365.43H366.59C375.3,880.4,378.62,880.2,387.33,880.2H388.48H389.63C398.34,880.2,401.66,877.4,410.37,877.4H411.52H412.68C421.39,877.4,424.71,876.7,433.42,876.7H434.57H435.72C444.43,876.7,447.75,878.3,456.46,878.3H457.61H458.77C467.48,878.3,470.8,880.7,479.51,880.7H480.66H481.81C490.52,880.7,493.84,881.3,502.55,881.3H503.7H504.86C513.57,881.3,516.89,878.3,525.6,878.3H526.75H527.9C536.61,878.3,539.93,876.7,548.64,876.7H549.79H550.95C559.66,876.7,562.98,875.1,571.69,875.1H572.84H573.99C582.7,875.1,586.02,873.7,594.73,873.7H595.88H597.04C605.75,873.7,609.07,872.1,617.78,872.1H618.93H620.08C628.79,872.1,632.11,870.5,640.82,870.5H641.97H643.13C651.84,870.5,655.16,868.7,663.87,868.7H665.02H666.17C674.88,868.7,678.2,866,686.91,866H688.06H689.22C697.93,866,701.24,863.5,709.96,863.5H711.11H712.26C720.97,863.5,724.29,860.5,733,860.5H734.15H735.31C744.02,860.5,747.33,859.1,756.05,859.1H757.2H758.35C767.06,859.1,770.38,859.5,779.09,859.5H780.24H781.4C790.11,859.5,793.42,860.5,802.14,860.5H803.29H804.44C813.15,860.5,816.47,860.9,825.18,860.9H826.33H827.48C836.2,860.9,839.51,861.4,848.23,861.4H849.38H850.53C859.24,861.4,862.56,861.6,871.27,861.6H872.42H873.57C882.29,861.6,885.6,807.7,894.32,807.7H895.47H896.62C905.33,807.7,908.65,862.6,917.36,862.6H918.51H919.66C928.38,862.6,931.69,860.5,940.4,860.5H941.56H942.71C951.42,860.5,954.74,859.3,963.45,859.3H964.6H965.75C974.47,859.3,977.78,859.5,986.49,859.5H987.65H1010.69H1011.84C1020.56,859.5,1023.87,858.4,1032.58,858.4H1033.74H1034.89C1043.6,858.4,1046.92,857.8,1055.63,857.8H1056.78H1057.93C1066.64,857.8,1069.96,858.4,1078.67,858.4H1079.83H1080.98C1089.69,858.4,1093.01,862.8,1101.72,862.8H1102.87H1104.02C1112.73,862.8,1116.05,859.8,1124.76,859.8H1125.92H1127.07C1135.78,859.8,1139.1,858.1,1147.81,858.1H1148.96H1150.11C1158.82,858.1,1162.14,858.4,1170.85,858.4H1172.01H1173.16C1181.87,858.4,1185.19,859.3,1193.9,859.3H1195.05H1196.2C1204.91,859.3,1208.23,860,1216.94,860H1218.1H1219.25C1227.96,860,1231.28,861.2,1239.99,861.2H1241.14H1264.19H1287.23H1288.38C1297.09,861.2,1300.41,860.9,1309.12,860.9H1310.28H1311.43C1320.14,860.9,1323.46,860,1332.17,860H1333.32H1334.47C1343.18,860,1346.5,855.8,1355.21,855.8H1356.37H1357.52C1366.23,855.8,1369.55,855.4,1378.26,855.4H1379.41H1380.56C1389.27,855.4,1392.59,855.1,1401.3,855.1H1402.46H1403.61C1412.32,855.1,1415.64,883.9,1424.35,883.9H1425.5L1425.5,921.6H1424.35C1415.64,921.6,1412.32,893.1,1403.61,893.1H1402.46H1401.3C1392.59,893.1,1389.27,894.3,1380.56,894.3H1379.41H1378.26C1369.55,894.3,1366.23,894.9,1357.52,894.9H1356.37H1355.21C1346.5,894.9,1343.18,896.9,1334.47,896.9H1333.32H1332.17C1323.46,896.9,1320.14,897.2,1311.43,897.2H1310.28H1309.12C1300.41,897.2,1297.09,897.4,1288.38,897.4H1287.23H1286.08C1277.37,897.4,1274.05,897.8,1265.34,897.8H1264.19H1263.03C1254.32,897.8,1251,898.6,1242.29,898.6H1241.14H1239.99C1231.28,898.6,1227.96,898.9,1219.25,898.9H1218.1H1195.05H1172.01H1148.96H1147.81C1139.1,898.9,1135.78,899.8,1127.07,899.8H1125.92H1124.76C1116.05,899.8,1112.73,902.1,1104.02,902.1H1102.87H1101.72C1093.01,902.1,1089.69,898.9,1080.98,898.9H1079.83H1056.78H1055.63C1046.92,898.9,1043.6,899.3,1034.89,899.3H1033.74H1032.58C1023.87,899.3,1020.56,901.2,1011.84,901.2H1010.69H1009.54C1000.83,901.2,997.51,902.4,988.8,902.4H987.65H986.49C977.78,902.4,974.47,900.7,965.75,900.7H964.6H963.45C954.74,900.7,951.42,901.8,942.71,901.8H941.56H940.4C931.69,901.8,928.38,903,919.66,903H918.51H917.36C908.65,903,905.33,850.9,896.62,850.9H895.47H894.32C885.6,850.9,882.29,903.2,873.57,903.2H872.42H871.27C862.56,903.2,859.24,903,850.53,903H849.38H826.33H825.18C816.47,903,813.15,902.8,804.44,902.8H803.29H802.14C793.42,902.8,790.11,902.4,781.4,902.4H780.24H779.09C770.38,902.4,767.06,901.6,758.35,901.6H757.2H756.05C747.33,901.6,744.02,900.9,735.31,900.9H734.15H733C724.29,900.9,720.97,900.4,712.26,900.4H711.11H709.96C701.24,900.4,697.93,900.1,689.22,900.1H688.06H686.91C678.2,900.1,674.88,899.3,666.17,899.3H665.02H663.87C655.16,899.3,651.84,898.9,643.13,898.9H641.97H618.93H617.78C609.07,898.9,605.75,899.3,597.04,899.3H595.88H594.73C586.02,899.3,582.7,900.1,573.99,900.1H572.84H571.69C562.98,900.1,559.66,900.7,550.95,900.7H549.79H548.64C539.93,900.7,536.61,901.8,527.9,901.8H526.75H525.6C516.89,901.8,513.57,901.9,504.86,901.9H503.7H502.55C493.84,901.9,490.52,900.5,481.81,900.5H480.66H479.51C470.8,900.5,467.48,899.2,458.77,899.2H457.61H456.46C447.75,899.2,444.43,897.1,435.72,897.1H434.57H433.42C424.71,897.1,421.39,896.4,412.68,896.4H411.52H410.37C401.66,896.4,398.34,900.6,389.63,900.6H388.48H387.33C378.62,900.6,375.3,900.9,366.59,900.9H365.43H364.28C355.57,900.9,352.25,897.1,343.54,897.1H342.39H341.24C332.53,897.1,329.21,896.4,320.5,896.4H319.34H296.3Z" fill="#cfc1b7" stroke="#807771" stroke-width="1.2"/>
<path class="band nuts" d="M296.3,921.85H297.45C306.16,921.85,309.48,906.15,318.19,906.15H319.34H320.5C329.21,906.15,332.53,906.45,341.24,906.45H342.39H343.54C352.25,906.45,355.57,909.65,364.28,909.65H365.43H366.59C375.3,909.65,378.62,909.95,387.33,909.95H388.48H389.63C398.34,909.95,401.66,922.85,410.37,922.85H411.52H412.68C421.39,922.85,424.71,923.55,433.42,923.55H434.57H435.72C444.43,923.55,447.75,924.25,456.46,924.25H457.61H458.77C467.48,924.25,470.8,911.05,479.51,911.05H480.66H481.81C490.52,911.05,493.84,912.65,502.55,912.65H503.7H504.86C513.57,912.65,516.89,912.45,525.6,912.45H526.75H527.9C536.61,912.45,539.93,911.25,548.64,911.25H549.79H550.95C559.66,911.25,562.98,910.45,571.69,910.45H572.84H573.99C582.7,910.45,586.02,909.85,594.73,909.85H595.88H597.04C605.75,909.85,609.07,909.45,617.78,909.45H618.93H620.08C628.79,909.45,632.11,909.65,640.82,909.65H641.97H643.13C651.84,909.65,655.16,909.85,663.87,909.85H665.02H666.17C674.88,909.85,678.2,910.45,686.91,910.45H688.06H711.11H712.26C720.97,910.45,724.29,911.25,733,911.25H734.15H735.31C744.02,911.25,747.33,911.55,756.05,911.55H757.2H758.35C767.06,911.55,770.38,912.35,779.09,912.35H780.24H781.4C790.11,912.35,793.42,912.75,802.14,912.75H803.29H804.44C813.15,912.75,816.47,912.95,825.18,912.95H826.33H827.48C836.2,912.95,839.51,913.05,848.23,913.05H849.38H872.42H895.47H896.62C905.33,913.05,908.65,913.35,917.36,913.35H918.51H919.66C928.38,913.35,931.69,912.75,940.4,912.75H941.56H942.71C951.42,912.75,954.74,910.75,963.45,910.75H964.6H965.75C974.47,910.75,977.78,912.75,986.49,912.75H987.65H988.8C997.51,912.75,1000.83,911.25,1009.54,911.25H1010.69H1011.84C1020.56,911.25,1023.87,909.45,1032.58,909.45H1033.74H1034.89C1043.6,909.45,1046.92,909.25,1055.63,909.25H1056.78H1079.83H1080.98C1089.69,909.25,1093.01,912.35,1101.72,912.35H1102.87H1104.02C1112.73,912.35,1116.05,910.15,1124.76,910.15H1125.92H1127.07C1135.78,910.15,1139.1,909.65,1147.81,909.65H1148.96H1150.11C1158.82,909.65,1162.14,909.45,1170.85,909.45H1172.01H1173.16C1181.87,909.45,1185.19,909.25,1193.9,909.25H1195.05H1196.2C1204.91,909.25,1208.23,909.05,1216.94,909.05H1218.1H1219.25C1227.96,909.05,1231.28,909.25,1239.99,909.25H1241.14H1242.29C1251,909.25,1254.32,907.75,1263.03,907.75H1264.19H1265.34C1274.05,907.75,1277.37,908.05,1286.08,908.05H1287.23H1288.38C1297.09,908.05,1300.41,907.85,1309.12,907.85H1310.28H1311.43C1320.14,907.85,1323.46,907.55,1332.17,907.55H1333.32H1334.47C1343.18,907.55,1346.5,905.45,1355.21,905.45H1356.37H1357.52C1366.23,905.45,1369.55,904.35,1378.26,904.35H1379.41H1380.56C1389.27,904.35,1392.59,903.45,1401.3,903.45H1402.46H1409.6L1409.6,922.25H1402.46H1379.41H1356.37H1333.32H1310.28H1287.23H1264.19H1241.14H1239.99C1231.28,922.25,1227.96,922.05,1219.25,922.05H1218.1H1216.94C1208.23,922.05,1204.91,921.95,1196.2,921.95H1195.05H1172.01H1170.85C1162.14,921.95,1158.82,921.75,1150.11,921.75H1148.96H1125.92H1124.76C1116.05,921.75,1112.73,921.45,1104.02,921.45H1102.87H1079.83H1056.78H1033.74H1032.58C1023.87,921.45,1020.56,921.15,1011.84,921.15H1010.69H987.65H986.49C977.78,921.15,974.47,920.55,965.75,920.55H964.6H963.45C954.74,920.55,951.42,920.25,942.71,920.25H941.56H940.4C931.69,920.25,928.38,919.95,919.66,919.95H918.51H917.36C908.65,919.95,905.33,919.75,896.62,919.75H895.47H872.42H871.27C862.56,919.75,859.24,919.65,850.53,919.65H849.38H848.23C839.51,919.65,836.2,919.35,827.48,919.35H826.33H825.18C816.47,919.35,813.15,919.15,804.44,919.15H803.29H802.14C793.42,919.15,790.11,918.85,781.4,918.85H780.24H779.09C770.38,918.85,767.06,918.55,758.35,918.55H757.2H756.05C747.33,918.55,744.02,918.45,735.31,918.45H734.15H733C724.29,918.45,720.97,918.25,712.26,918.25H711.11H688.06H686.91C678.2,918.25,674.88,917.65,666.17,917.65H665.02H663.87C655.16,917.65,651.84,917.45,643.13,917.45H641.97H640.82C632.11,917.45,628.79,917.35,620.08,917.35H618.93H617.78C609.07,917.35,605.75,917.45,597.04,917.45H595.88H594.73C586.02,917.45,582.7,917.65,573.99,917.65H572.84H571.69C562.98,917.65,559.66,917.95,550.95,917.95H549.79H548.64C539.93,917.95,536.61,918.25,527.9,918.25H526.75H503.7H502.55C493.84,918.25,490.52,917.45,481.81,917.45H480.66H479.51C470.8,917.45,467.48,930.35,458.77,930.35H457.61H456.46C447.75,930.35,444.43,929.95,435.72,929.95H434.57H433.42C424.71,929.95,421.39,929.65,412.68,929.65H411.52H410.37C401.66,929.65,398.34,916.35,389.63,916.35H388.48H365.43H364.28C355.57,916.35,352.25,913.25,343.54,913.25H342.39H341.24C332.53,913.25,329.21,912.85,320.5,912.85H319.34H318.19C309.48,912.85,306.16,927.55,297.45,927.55H296.3Z" fill="#cf8146" stroke="#b6713d" stroke-width="0.9"/>
<path class="band lamb" d="M296.3,906.25H297.45C306.16,906.25,309.48,922.25,318.19,922.25H319.34H320.5C329.21,922.25,332.53,923.35,341.24,923.35H342.39H343.54C352.25,923.35,355.57,924.65,364.28,924.65H365.43H388.48H389.63C398.34,924.65,401.66,939.65,410.37,939.65H411.52H412.68C421.39,939.65,424.71,940.05,433.42,940.05H434.57H435.72C444.43,940.05,447.75,940.15,456.46,940.15H457.61H458.77C467.48,940.15,470.8,940.35,479.51,940.35H480.66H481.81C490.52,940.35,493.84,940.55,502.55,940.55H503.7H504.86C513.57,940.55,516.89,940.49,525.6,940.49H526.75H527.9C536.61,940.49,539.93,940.43,548.64,940.43H549.79H550.95C559.66,940.43,562.98,940.37,571.69,940.37H572.84H573.99C582.7,940.37,586.02,940.31,594.73,940.31H595.88H597.04C605.75,940.31,609.07,940.25,617.78,940.25H618.93H620.08C628.79,940.25,632.11,940.28,640.82,940.28H641.97H643.13C651.84,940.28,655.16,940.32,663.87,940.32H665.02H666.17C674.88,940.32,678.2,940.35,686.91,940.35H688.06H689.22C697.93,940.35,701.24,929.15,709.96,929.15H711.11H712.26C720.97,929.15,724.29,929.25,733,929.25H734.15H757.2H758.35C767.06,929.25,770.38,929.45,779.09,929.45H780.24H781.4C790.11,929.45,793.42,929.55,802.14,929.55H803.29H804.44C813.15,929.55,816.47,929.65,825.18,929.65H826.33H827.48C836.2,929.65,839.51,929.85,848.23,929.85H849.38H850.53C859.24,929.85,862.56,929.95,871.27,929.95H872.42H873.57C882.29,929.95,885.6,941.05,894.32,941.05H895.47H896.62C905.33,941.05,908.65,930.25,917.36,930.25H918.51H919.66C928.38,930.25,931.69,930.45,940.4,930.45H941.56H942.71C951.42,930.45,954.74,930.65,963.45,930.65H964.6H965.75C974.47,930.65,977.78,930.85,986.49,930.85H987.65H988.8C997.51,930.85,1000.83,931.05,1009.54,931.05H1010.69H1011.84C1020.56,931.05,1023.87,931.08,1032.58,931.08H1033.74H1034.89C1043.6,931.08,1046.92,931.12,1055.63,931.12H1056.78H1057.93C1066.64,931.12,1069.96,931.15,1078.67,931.15H1079.83H1080.98C1089.69,931.15,1093.01,931.23,1101.72,931.23H1102.87H1104.02C1112.73,931.23,1116.05,931.3,1124.76,931.3H1125.92H1127.07C1135.78,931.3,1139.1,931.38,1147.81,931.38H1148.96H1150.11C1158.82,931.38,1162.14,931.45,1170.85,931.45H1172.01H1173.16C1181.87,931.45,1185.19,931.52,1193.9,931.52H1195.05H1196.2C1204.91,931.52,1208.23,931.6,1216.94,931.6H1218.1H1219.25C1227.96,931.6,1231.28,931.67,1239.99,931.67H1241.14H1242.29C1251,931.67,1254.32,931.75,1263.03,931.75H1264.19H1287.23H1310.28H1333.32H1356.37H1379.41H1402.46H1425.5L1425.5,933.85H1424.35C1415.64,933.85,1412.32,933.84,1403.61,933.84H1402.46H1401.3C1392.59,933.84,1389.27,933.82,1380.56,933.82H1379.41H1378.26C1369.55,933.82,1366.23,933.81,1357.52,933.81H1356.37H1355.21C1346.5,933.81,1343.18,933.79,1334.47,933.79H1333.32H1332.17C1323.46,933.79,1320.14,933.78,1311.43,933.78H1310.28H1309.12C1300.41,933.78,1297.09,933.76,1288.38,933.76H1287.23H1286.08C1277.37,933.76,1274.05,933.75,1265.34,933.75H1264.19H1263.03C1254.32,933.75,1251,933.69,1242.29,933.69H1241.14H1239.99C1231.28,933.69,1227.96,933.62,1219.25,933.62H1218.1H1216.94C1208.23,933.62,1204.91,933.56,1196.2,933.56H1195.05H1193.9C1185.19,933.56,1181.87,933.5,1173.16,933.5H1172.01H1170.85C1162.14,933.5,1158.82,933.44,1150.11,933.44H1148.96H1147.81C1139.1,933.44,1135.78,933.38,1127.07,933.38H1125.92H1124.76C1116.05,933.38,1112.73,933.31,1104.02,933.31H1102.87H1101.72C1093.01,933.31,1089.69,933.25,1080.98,933.25H1079.83H1078.67C1069.96,933.25,1066.64,933.22,1057.93,933.22H1056.78H1055.63C1046.92,933.22,1043.6,933.18,1034.89,933.18H1033.74H1032.58C1023.87,933.18,1020.56,933.15,1011.84,933.15H1010.69H1009.54C1000.83,933.15,997.51,932.95,988.8,932.95H987.65H986.49C977.78,932.95,974.47,932.85,965.75,932.85H964.6H963.45C954.74,932.85,951.42,932.75,942.71,932.75H941.56H940.4C931.69,932.75,928.38,932.65,919.66,932.65H918.51H917.36C908.65,932.65,905.33,942.75,896.62,942.75H895.47H894.32C885.6,942.75,882.29,932.35,873.57,932.35H872.42H871.27C862.56,932.35,859.24,932.25,850.53,932.25H849.38H848.23C839.51,932.25,836.2,932.05,827.48,932.05H826.33H825.18C816.47,932.05,813.15,931.95,804.44,931.95H803.29H802.14C793.42,931.95,790.11,931.85,781.4,931.85H780.24H779.09C770.38,931.85,767.06,931.75,758.35,931.75H757.2H756.05C747.33,931.75,744.02,931.55,735.31,931.55H734.15H733C724.29,931.55,720.97,931.45,712.26,931.45H711.11H709.96C701.24,931.45,697.93,942.75,689.22,942.75H688.06H665.02H641.97H618.93H595.88H572.84H549.79H526.75H503.7H480.66H457.61H434.57H411.52H410.37C401.66,942.75,398.34,930.25,389.63,930.25H388.48H387.33C378.62,930.25,375.3,930.95,366.59,930.95H365.43H364.28C355.57,930.95,352.25,929.15,343.54,929.15H342.39H341.24C332.53,929.15,329.21,928.45,320.5,928.45H319.34H318.19C309.48,928.45,306.16,912.05,297.45,912.05H296.3Z" fill="#83191e" stroke="#490e10" stroke-width="1.1"/>
<path class="band veal" d="M296.3,937.5H297.45C306.16,937.5,309.48,938.6,318.19,938.6H319.34H320.5C329.21,938.6,332.53,939.3,341.24,939.3H342.39H343.54C352.25,939.3,355.57,940,364.28,940H365.43H366.59C375.3,940,378.62,939.3,387.33,939.3H388.48H389.63C398.34,939.3,401.66,906.2,410.37,906.2H411.52H412.68C421.39,906.2,424.71,906.5,433.42,906.5H434.57H435.72C444.43,906.5,447.75,907.9,456.46,907.9H457.61H458.77C467.48,907.9,470.8,926,479.51,926H480.66H481.81C490.52,926,493.84,928,502.55,928H503.7H504.86C513.57,928,516.89,928.2,525.6,928.2H526.75H527.9C536.61,928.2,539.93,928.1,548.64,928.1H549.79H550.95C559.66,928.1,562.98,927.9,571.69,927.9H572.84H573.99C582.7,927.9,586.02,927.3,594.73,927.3H595.88H597.04C605.75,927.3,609.07,927,617.78,927H618.93H641.97H643.13C651.84,927,655.16,927.3,663.87,927.3H665.02H666.17C674.88,927.3,678.2,928.5,686.91,928.5H688.06H689.22C697.93,928.5,701.24,940.7,709.96,940.7H711.11H712.26C720.97,940.7,724.29,940.8,733,940.8H734.15H735.31C744.02,940.8,747.33,941,756.05,941H757.2H758.35C767.06,941,770.38,941.07,779.09,941.07H780.24H781.4C790.11,941.07,793.42,941.13,802.14,941.13H803.29H804.44C813.15,941.13,816.47,941.2,825.18,941.2H826.33H827.48C836.2,941.2,839.51,941.35,848.23,941.35H849.38H850.53C859.24,941.35,862.56,941.5,871.27,941.5H872.42H873.57C882.29,941.5,885.6,929.4,894.32,929.4H895.47H896.62C905.33,929.4,908.65,941.5,917.36,941.5H918.51H919.66C928.38,941.5,931.69,941.6,940.4,941.6H941.56H942.71C951.42,941.6,954.74,941.7,963.45,941.7H964.6H965.75C974.47,941.7,977.78,941.8,986.49,941.8H987.65H988.8C997.51,941.8,1000.83,941.88,1009.54,941.88H1010.69H1011.84C1020.56,941.88,1023.87,941.95,1032.58,941.95H1033.74H1034.89C1043.6,941.95,1046.92,942.02,1055.63,942.02H1056.78H1057.93C1066.64,942.02,1069.96,942.1,1078.67,942.1H1079.83H1080.98C1089.69,942.1,1093.01,942.14,1101.72,942.14H1102.87H1104.02C1112.73,942.14,1116.05,942.17,1124.76,942.17H1125.92H1127.07C1135.78,942.17,1139.1,942.21,1147.81,942.21H1148.96H1150.11C1158.82,942.21,1162.14,942.25,1170.85,942.25H1172.01H1173.16C1181.87,942.25,1185.19,942.29,1193.9,942.29H1195.05H1196.2C1204.91,942.29,1208.23,942.33,1216.94,942.33H1218.1H1219.25C1227.96,942.33,1231.28,942.36,1239.99,942.36H1241.14H1242.29C1251,942.36,1254.32,942.4,1263.03,942.4H1264.19H1287.23H1310.28H1333.32H1356.37H1379.41H1402.46H1425.5L1425.5,943.1H1424.35C1415.64,943.1,1412.32,943.09,1403.61,943.09H1402.46H1401.3C1392.59,943.09,1389.27,943.07,1380.56,943.07H1379.41H1378.26C1369.55,943.07,1366.23,943.06,1357.52,943.06H1356.37H1355.21C1346.5,943.06,1343.18,943.04,1334.47,943.04H1333.32H1332.17C1323.46,943.04,1320.14,943.03,1311.43,943.03H1310.28H1309.12C1300.41,943.03,1297.09,943.01,1288.38,943.01H1287.23H1286.08C1277.37,943.01,1274.05,943,1265.34,943H1264.19H1263.03C1254.32,943,1251,942.99,1242.29,942.99H1241.14H1239.99C1231.28,942.99,1227.96,942.98,1219.25,942.98H1218.1H1216.94C1208.23,942.98,1204.91,942.96,1196.2,942.96H1195.05H1193.9C1185.19,942.96,1181.87,942.95,1173.16,942.95H1172.01H1170.85C1162.14,942.95,1158.82,942.94,1150.11,942.94H1148.96H1147.81C1139.1,942.94,1135.78,942.92,1127.07,942.92H1125.92H1124.76C1116.05,942.92,1112.73,942.91,1104.02,942.91H1102.87H1101.72C1093.01,942.91,1089.69,942.9,1080.98,942.9H1079.83H1078.67C1069.96,942.9,1066.64,942.88,1057.93,942.88H1056.78H1055.63C1046.92,942.88,1043.6,942.85,1034.89,942.85H1033.74H1032.58C1023.87,942.85,1020.56,942.82,1011.84,942.82H1010.69H1009.54C1000.83,942.82,997.51,942.8,988.8,942.8H987.65H964.6H941.56H918.51H917.36C908.65,942.8,905.33,931.2,896.62,931.2H895.47H894.32C885.6,931.2,882.29,942.8,873.57,942.8H872.42H849.38H826.33H803.29H780.24H757.2H734.15H711.11H709.96C701.24,942.8,697.93,931,689.22,931H688.06H686.91C678.2,931,674.88,930.6,666.17,930.6H665.02H641.97H618.93H595.88H594.73C586.02,930.6,582.7,930.7,573.99,930.7H572.84H549.79H526.75H525.6C516.89,930.7,513.57,930.5,504.86,930.5H503.7H502.55C493.84,930.5,490.52,929.9,481.81,929.9H480.66H479.51C470.8,929.9,467.48,914.6,458.77,914.6H457.61H456.46C447.75,914.6,444.43,913.5,435.72,913.5H434.57H411.52H410.37C401.66,913.5,398.34,943.2,389.63,943.2H388.48H365.43H342.39H319.34H296.3Z" fill="#da96ab" stroke="#ae7888" stroke-width="1.0"/>
</g>
<g id="axis">
<line x1="296.3" x2="296.3" y1="984.7" y2="998.6" stroke="#555" stroke-width="1.4"/>
<line x1="319.3" x2="319.3" y1="984.7" y2="991.7" stroke="#808080" stroke-width="1.4"/>
<line x1="342.4" x2="342.4" y1="984.7" y2="991.7" stroke="#808080" stroke-width="1.4"/>
<line x1="365.4" x2="365.4" y1="984.7" y2="991.7" stroke="#808080" stroke-width="1.4"/>
<line x1="388.5" x2="388.5" y1="984.7" y2="991.7" stroke="#808080" stroke-width="1.4"/>
<line x1="411.5" x2="411.5" y1="984.7" y2="998.6" stroke="#555" stroke-width="1.4"/>
<line x1="434.6" x2="434.6" y1="984.7" y2="991.7" stroke="#808080" stroke-width="1.4"/>
<line x1="457.6" x2="457.6" y1="984.7" y2="991.7" stroke="#808080" stroke-width="1.4"/>
<line x1="480.7" x2="480.7" y1="984.7" y2="991.7" stroke="#808080" stroke-width="1.4"/>
<line x1="503.7" x2="503.7" y1="984.7" y2="991.7" stroke="#808080" stroke-width="1.4"/>
<line x1="526.7" x2="526.7" y1="984.7" y2="998.6" stroke="#555" stroke-width="1.4"/>
<line x1="549.8" x2="549.8" y1="984.7" y2="991.7" stroke="#808080" stroke-width="1.4"/>
<line x1="572.8" x2="572.8" y1="984.7" y2="991.7" stroke="#808080" stroke-width="1.4"/>
<line x1="595.9" x2="595.9" y1="984.7" y2="991.7" stroke="#808080" stroke-width="1.4"/>
<line x1="618.9" x2="618.9" y1="984.7" y2="991.7" stroke="#808080" stroke-width="1.4"/>
<line x1="642.0" x2="642.0" y1="984.7" y2="998.6" stroke="#555" stroke-width="1.4"/>
<line x1="665.0" x2="665.0" y1="984.7" y2="991.7" stroke="#808080" stroke-width="1.4"/>
<line x1="688.1" x2="688.1" y1="984.7" y2="991.7" stroke="#808080" stroke-width="1.4"/>
<line x1="711.1" x2="711.1" y1="984.7" y2="991.7" stroke="#808080" stroke-width="1.4"/>
<line x1="734.2" x2="734.2" y1="984.7" y2="991.7" stroke="#808080" stroke-width="1.4"/>
<line x1="757.2" x2="757.2" y1="984.7" y2="998.6" stroke="#555" stroke-width="1.4"/>
<line x1="780.2" x2="780.2" y1="984.7" y2="991.7" stroke="#808080" stroke-width="1.4"/>
<line x1="803.3" x2="803.3" y1="984.7" y2="991.7" stroke="#808080" stroke-width="1.4"/>
<line x1="826.3" x2="826.3" y1="984.7" y2="991.7" stroke="#808080" stroke-width="1.4"/>
<line x1="849.4" x2="849.4" y1="984.7" y2="991.7" stroke="#808080" stroke-width="1.4"/>
<line x1="872.4" x2="872.4" y1="984.7" y2="998.6" stroke="#555" stroke-width="1.4"/>
<line x1="895.5" x2="895.5" y1="984.7" y2="991.7" stroke="#808080" stroke-width="1.4"/>
<line x1="918.5" x2="918.5" y1="984.7" y2="991.7" stroke="#808080" stroke-width="1.4"/>
<line x1="941.6" x2="941.6" y1="984.7" y2="991.7" stroke="#808080" stroke-width="1.4"/>
<line x1="964.6" x2="964.6" y1="984.7" y2="991.7" stroke="#808080" stroke-width="1.4"/>
<line x1="987.6" x2="987.6" y1="984.7" y2="998.6" stroke="#555" stroke-width="1.4"/>
<line x1="1010.7" x2="1010.7" y1="984.7" y2="991.7" stroke="#808080" stroke-width="1.4"/>
<line x1="1033.7" x2="1033.7" y1="984.7" y2="991.7" stroke="#808080" stroke-width="1.4"/>
<line x1="1056.8" x2="1056.8" y1="984.7" y2="991.7" stroke="#808080" stroke-width="1.4"/>
<line x1="1079.8" x2="1079.8" y1="984.7" y2="991.7" stroke="#808080" stroke-width="1.4"/>
<line x1="1102.9" x2="1102.9" y1="984.7" y2="998.6" stroke="#555" stroke-width="1.4"/>
<line x1="1125.9" x2="1125.9" y1="984.7" y2="991.7" stroke="#808080" stroke-width="1.4"/>
<line x1="1149.0" x2="1149.0" y1="984.7" y2="991.7" stroke="#808080" stroke-width="1.4"/>
<line x1="1172.0" x2="1172.0" y1="984.7" y2="991.7" stroke="#808080" stroke-width="1.4"/>
<line x1="1195.1" x2="1195.1" y1="984.7" y2="991.7" stroke="#808080" stroke-width="1.4"/>
<line x1="1218.1" x2="1218.1" y1="984.7" y2="998.6" stroke="#555" stroke-width="1.4"/>
<line x1="1241.1" x2="1241.1" y1="984.7" y2="991.7" stroke="#808080" stroke-width="1.4"/>
<line x1="1264.2" x2="1264.2" y1="984.7" y2="991.7" stroke="#808080" stroke-width="1.4"/>
<line x1="1287.2" x2="1287.2" y1="984.7" y2="991.7" stroke="#808080" stroke-width="1.4"/>
<line x1="1310.3" x2="1310.3" y1="984.7" y2="991.7" stroke="#808080" stroke-width="1.4"/>
<line x1="1333.3" x2="1333.3" y1="984.7" y2="998.6" stroke="#555" stroke-width="1.4"/>
<line x1="1356.4" x2="1356.4" y1="984.7" y2="991.7" stroke="#808080" stroke-width="1.4"/>
<line x1="1379.4" x2="1379.4" y1="984.7" y2="991.7" stroke="#808080" stroke-width="1.4"/>
<line x1="1402.5" x2="1402.5" y1="984.7" y2="991.7" stroke="#808080" stroke-width="1.4"/>
<line x1="1425.5" x2="1425.5" y1="984.7" y2="998.6" stroke="#555" stroke-width="1.4"/>
<text class="ax" transform="translate(291.5,1022.0) scale(0.883,1)" font-size="17.18" text-anchor="middle">1970</text>
<text class="ax" transform="translate(411.5,1022.0) scale(0.883,1)" font-size="17.18" text-anchor="middle">1975</text>
<text class="ax" transform="translate(526.7,1022.0) scale(0.883,1)" font-size="17.18" text-anchor="middle">1980</text>
<text class="ax" transform="translate(642.0,1022.0) scale(0.883,1)" font-size="17.18" text-anchor="middle">1985</text>
<text class="ax" transform="translate(757.2,1022.0) scale(0.883,1)" font-size="17.18" text-anchor="middle">1990</text>
<text class="ax" transform="translate(872.4,1022.0) scale(0.883,1)" font-size="17.18" text-anchor="middle">1995</text>
<text class="ax" transform="translate(987.6,1022.0) scale(0.883,1)" font-size="17.18" text-anchor="middle">2000</text>
<text class="ax" transform="translate(1102.9,1022.0) scale(0.883,1)" font-size="17.18" text-anchor="middle">2005</text>
<text class="ax" transform="translate(1218.1,1022.0) scale(0.883,1)" font-size="17.18" text-anchor="middle">2010</text>
<text class="ax" transform="translate(1333.3,1022.0) scale(0.883,1)" font-size="17.18" text-anchor="middle">2015</text>
<text class="ax" transform="translate(1425.5,1022.0) scale(0.883,1)" font-size="17.18" text-anchor="middle">2019</text>
</g>
<g id="labels">
<text class="lb" transform="translate(282.0,262.8) scale(0.883,1)" font-size="20.77" text-anchor="end">Beef</text>
<text class="vl" transform="translate(282.0,285.6) scale(0.883,1)" font-size="16.05" text-anchor="end">61.1 POUNDS PER YEAR, IN 1970</text>
<text class="lb" transform="translate(282.0,499.5) scale(0.883,1)" font-size="20.48" text-anchor="end">Pork</text>
<text class="vl" transform="translate(282.0,521.6) scale(0.883,1)" font-size="16.05" text-anchor="end">32.9</text>
<text class="lb" transform="translate(282.0,650.5) scale(0.883,1)" font-size="20.48" text-anchor="end">Eggs</text>
<text class="vl" transform="translate(282.0,672.6) scale(0.883,1)" font-size="16.05" text-anchor="end">24.9</text>
<text class="lb" transform="translate(282.0,773.5) scale(0.883,1)" font-size="20.39" text-anchor="end">Chicken</text>
<text class="vl" transform="translate(282.0,794.0) scale(0.883,1)" font-size="16.05" text-anchor="end">22.4</text>
<text class="lb" transform="translate(282.0,846.3) scale(0.883,1)" font-size="17.37" text-anchor="end">Fish and Shellfish</text>
<text class="vl" transform="translate(282.0,865.0) scale(0.883,1)" font-size="16.05" text-anchor="end">7.5</text>
<text class="lb" transform="translate(282.0,891.0) scale(0.883,1)" font-size="16.33" text-anchor="end">Turkey</text>
<text class="lb" transform="translate(282.0,913.0) scale(0.883,1)" font-size="15.95" text-anchor="end">Lamb</text>
<text class="lb" transform="translate(282.0,930.3) scale(0.883,1)" font-size="16.14" text-anchor="end">Nuts</text>
<text class="lb" transform="translate(282.0,947.2) scale(0.883,1)" font-size="15.48" text-anchor="end">Veal</text>
<text class="lb" transform="translate(1435.0,183.5) scale(0.883,1)" font-size="20.39">Chicken</text>
<text class="vl" transform="translate(1435.0,206.6) scale(0.883,1)" font-size="16.05">54.6 POUNDS PER YEAR, IN 2019</text>
<text class="lb" transform="translate(1435.0,428.0) scale(0.883,1)" font-size="20.01">Beef</text>
<text class="vl" transform="translate(1435.0,449.2) scale(0.883,1)" font-size="16.05">42.2</text>
<text class="lb" transform="translate(1435.0,620.0) scale(0.883,1)" font-size="20.01">Pork</text>
<text class="vl" transform="translate(1435.0,640.0) scale(0.883,1)" font-size="16.05">33.0</text>
<text class="lb" transform="translate(1435.0,760.8) scale(0.883,1)" font-size="20.39">Eggs</text>
<text class="vl" transform="translate(1435.0,782.8) scale(0.883,1)" font-size="16.05">23.7</text>
<text class="lb" transform="translate(1435.0,846.6) scale(0.883,1)" font-size="17.37">Fish and Shellfish</text>
<text class="vl" transform="translate(1435.0,866.0) scale(0.883,1)" font-size="16.05">9.7</text>
<text class="lb" transform="translate(1435.0,900.0) scale(0.883,1)" font-size="16.71">Turkey</text>
<text class="lb" transform="translate(1435.0,920.3) scale(0.883,1)" font-size="17.28">Nuts</text>
<text class="lb" transform="translate(1435.0,936.2) scale(0.883,1)" font-size="15.67">Lamb</text>
<text class="lb" transform="translate(1435.0,952.3) scale(0.883,1)" font-size="15.29">Veal</text>
</g>
<g id="annotations">
<text class="an" x="1260.0" y="188.5" textLength="49.5" lengthAdjust="spacingAndGlyphs" text-anchor="middle">...top.</text>
<text class="an" x="896.0" y="443.5" textLength="80.0" lengthAdjust="spacingAndGlyphs" text-anchor="middle">...to the...</text>
<text class="an" x="552.5" y="648.5" textLength="69.5" lengthAdjust="spacingAndGlyphs" text-anchor="middle">...rises...</text>
<text class="an" x="359.5" y="774.5" textLength="86.0" lengthAdjust="spacingAndGlyphs" text-anchor="middle">Chicken...</text>
<text class="an" x="755.0" y="587.5" textLength="197.5" lengthAdjust="spacingAndGlyphs">Pork, “the other white</text>
<text class="an" x="755.0" y="613.4" textLength="227.5" lengthAdjust="spacingAndGlyphs">meat,” eventually loses to</text>
<text class="an" x="755.0" y="639.3" textLength="232.0" lengthAdjust="spacingAndGlyphs">chicken in the great battle</text>
<text class="an" x="755.0" y="665.2" textLength="65.0" lengthAdjust="spacingAndGlyphs">of 1987.</text>
<text class="an" x="1511.5" y="429.6" textLength="158.0" lengthAdjust="spacingAndGlyphs">Beef declined 31%</text>
<text class="an" x="1511.5" y="455.5" textLength="169.5" lengthAdjust="spacingAndGlyphs">per capita between</text>
<text class="an" x="1511.5" y="481.4" textLength="129.5" lengthAdjust="spacingAndGlyphs">1970 and 2019.</text>
<text class="an" x="1511.0" y="940.6" textLength="144.5" lengthAdjust="spacingAndGlyphs">There is no 2019</text>
<text class="an" x="1511.0" y="966.5" textLength="157.0" lengthAdjust="spacingAndGlyphs">estimate for nuts,</text>
<text class="an" x="1511.0" y="992.4" textLength="169.0" lengthAdjust="spacingAndGlyphs">which shifts things</text>
<text class="an" x="1511.0" y="1018.3" textLength="182.5" lengthAdjust="spacingAndGlyphs">down, but the distri-</text>
<text class="an" x="1511.0" y="1044.2" textLength="181.5" lengthAdjust="spacingAndGlyphs">bution is likely simi-</text>
<text class="an" x="1511.0" y="1070.1" textLength="99.5" lengthAdjust="spacingAndGlyphs">lar to 2018.</text>
</g>
</svg>
</body>
</html>
